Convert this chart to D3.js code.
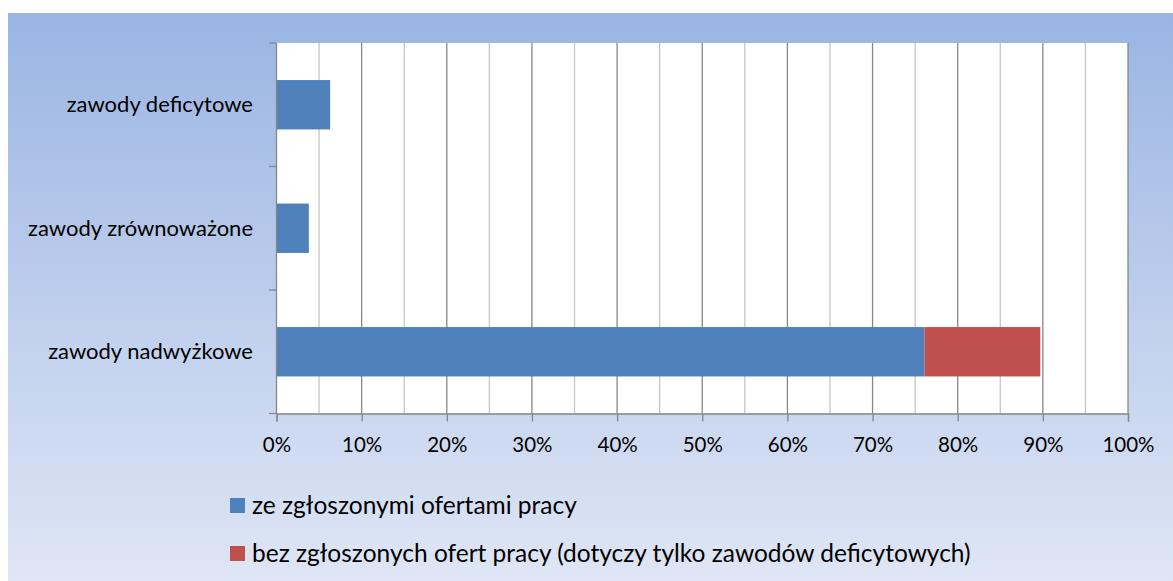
<!DOCTYPE html>
<html><head><meta charset="utf-8">
<script src="https://cdn.jsdelivr.net/npm/d3@7/dist/d3.min.js"></script>
<style>html,body{margin:0;padding:0;background:#fff;}svg{display:block;}</style>
</head><body>
<svg id="c" width="1173" height="581"></svg>
<script>
const categories = ["zawody deficytowe", "zawody zrównoważone", "zawody nadwyżkowe"];
const seriesNames = ["ze zgłoszonymi ofertami pracy", "bez zgłoszonych ofert pracy (dotyczy tylko zawodów deficytowych)"];
const withOffers = [6.3, 3.8, 76.1];
const withoutOffers = [0, 0, 13.6];
const xTicks = [0,10,20,30,40,50,60,70,80,90,100];
const colors = ["#4F81BD", "#C0504D"];

const svg = d3.select("#c");
const FONT = "Lato, 'Open Sans', sans-serif";
const defs = svg.append("defs");
const grad = defs.append("linearGradient").attr("id","bg").attr("x1",0).attr("y1",0).attr("x2",0).attr("y2",1);
grad.append("stop").attr("offset","0%").attr("stop-color","#9AB5E3");
grad.append("stop").attr("offset","100%").attr("stop-color","#DFE6F5");
svg.append("rect").attr("x",8).attr("y",13).attr("width",1165).attr("height",568).attr("fill","url(#bg)");

const L = 276.5, R = 1128, T = 43, B = 413.5;
const x = d3.scaleLinear().domain([0,100]).range([L,R]);
const y = d3.scaleBand().domain(categories).range([T,B]).paddingInner(0.6).paddingOuter(0.3);
const yb = d3.scaleBand().domain(categories).range([T,B]);

svg.append("rect").attr("x",L).attr("y",T).attr("width",R-L).attr("height",B-T).attr("fill","#fff");

// gridlines
const minor = d3.range(5,100,10);
svg.append("g").selectAll("line").data(minor).join("line")
  .attr("x1",d=>x(d)).attr("x2",d=>x(d)).attr("y1",T).attr("y2",B)
  .attr("stroke","#C6C6C6").attr("stroke-width",1.3);
svg.append("g").selectAll("line").data(xTicks.slice(1)).join("line")
  .attr("x1",d=>x(d)).attr("x2",d=>x(d)).attr("y1",T).attr("y2",B)
  .attr("stroke","#878787").attr("stroke-width",1.3);

// bars
const stacked = categories.map((c,i)=>({c, v:[withOffers[i], withoutOffers[i]]}));
stacked.forEach(d=>{
  let acc = 0;
  d.v.forEach((v,j)=>{
    if (v>0) {
      svg.append("rect").attr("x",x(acc)).attr("y",y(d.c)).attr("width",x(acc+v)-x(acc)).attr("height",y.bandwidth()).attr("fill",colors[j]);
    }
    acc += v;
  });
});

// x axis
const xAxis = d3.axisBottom(x).tickValues(xTicks).tickFormat(d=>d+"%").tickSize(8).tickPadding(16);
const gx = svg.append("g").attr("transform",`translate(0,${B})`).call(xAxis);
gx.select(".domain").attr("stroke","#878787").attr("stroke-width",1.3);
gx.selectAll(".tick line").attr("stroke","#878787").attr("stroke-width",1.3);
gx.selectAll("text").attr("font-family",FONT).attr("font-size",20.5).attr("fill","#000");

// y axis
svg.append("line").attr("x1",L).attr("x2",L).attr("y1",T).attr("y2",B).attr("stroke","#878787").attr("stroke-width",1.3);
const bounds = categories.map(c=>yb(c)).concat([B]);
svg.append("g").selectAll("line").data(bounds).join("line")
  .attr("x1",L-7.5).attr("x2",L).attr("y1",d=>d).attr("y2",d=>d).attr("stroke","#878787").attr("stroke-width",1.3);
svg.append("g").selectAll("text").data(categories).join("text")
  .attr("x",253).attr("y",d=>y(d)+y.bandwidth()/2).attr("dy","0.35em")
  .attr("text-anchor","end").attr("font-family",FONT).attr("font-size",22).attr("fill","#000").text(d=>d);

// legend
const lg = svg.append("g").selectAll("g").data(seriesNames).join("g")
  .attr("transform",(d,i)=>`translate(230,${498+i*48})`);
lg.append("rect").attr("width",15).attr("height",15).attr("fill",(d,i)=>colors[i]);
lg.append("text").attr("x",22).attr("y",7.5).attr("dy","0.35em").attr("font-family",FONT).attr("font-size",24.5).attr("fill","#000").text(d=>d);
</script>
</body></html>
